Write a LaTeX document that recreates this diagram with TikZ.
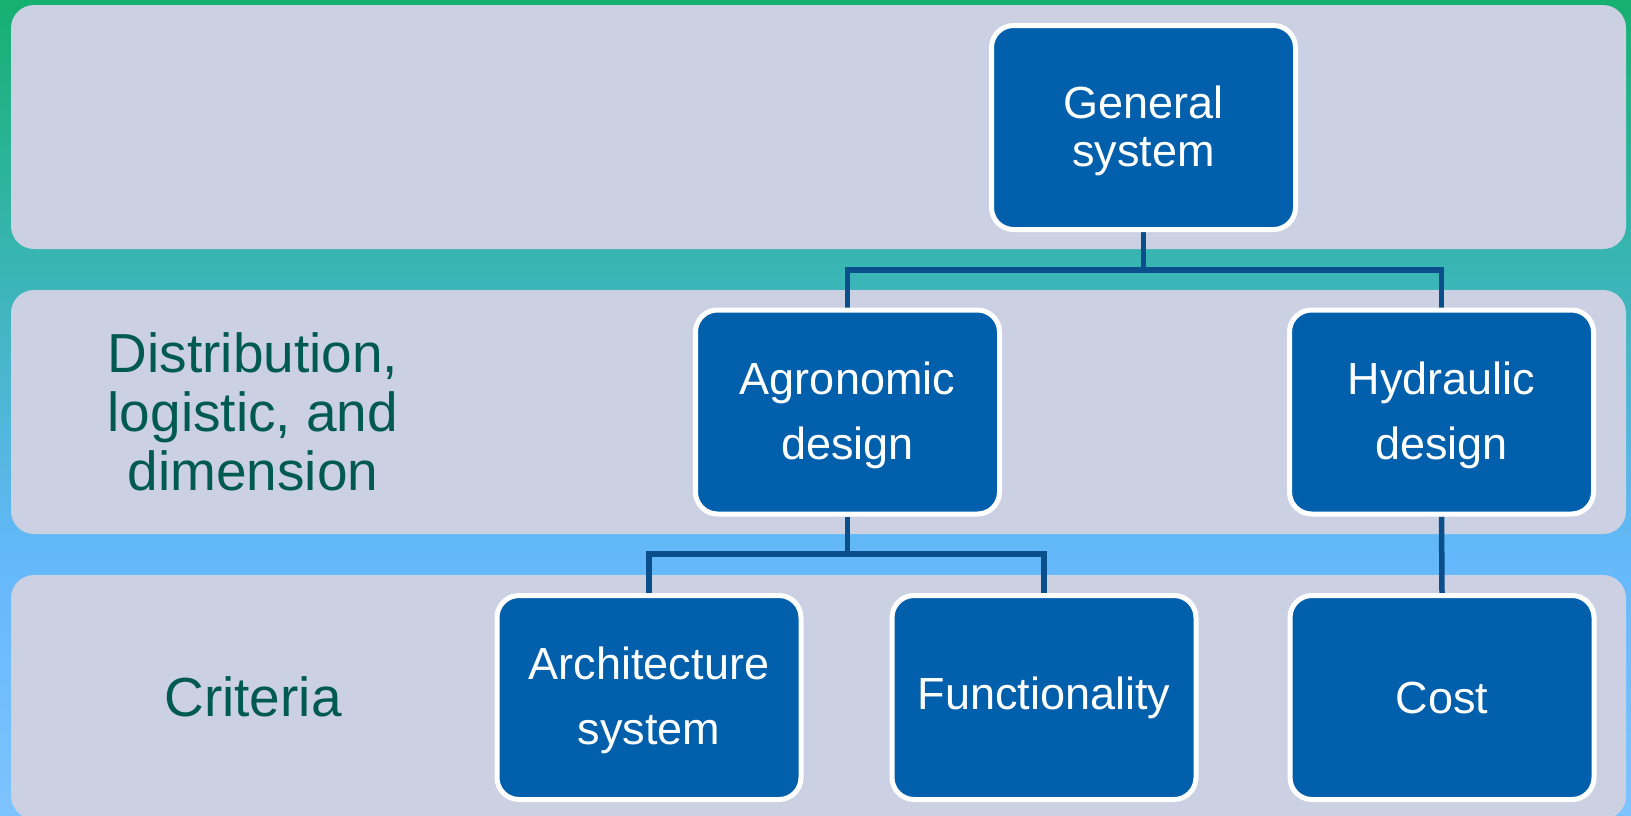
\documentclass[tikz,border=0pt]{standalone}
\usepackage{fontspec}
\setmainfont{Liberation Sans}
\pgfdeclarelayer{bgl}
\pgfdeclarelayer{midl}
\pgfsetlayers{bgl,midl,main}
\definecolor{bgA}{RGB}{22,176,112}
\definecolor{bgB}{RGB}{58,181,181}
\definecolor{bgC}{RGB}{100,184,250}
\definecolor{bgD}{RGB}{125,195,255}
\definecolor{bandc}{RGB}{203,209,227}
\definecolor{boxblue}{RGB}{2,95,172}
\definecolor{linkblue}{RGB}{10,78,140}
\definecolor{labelgreen}{RGB}{0,90,82}
\newcommand{\upstrut}[1]{\rule{0pt}{#1}}
\begin{document}
\begin{tikzpicture}[x=1pt,y=-1pt,
  box/.style={draw=white, line width=5pt, fill=boxblue, rounded corners=22pt,
    minimum width=304pt, minimum height=204pt, text=white,
    font=\fontsize{45}{65}\selectfont, align=center, inner sep=0pt},
  link/.style={draw=linkblue, line width=5.5pt},
  lab/.style={text=labelgreen, font=\fontsize{55}{59}\selectfont, align=center, inner sep=0pt}]
\useasboundingbox (0,0) rectangle (1631,815);
\begin{pgfonlayer}{bgl}
  \shade[top color=bgA,bottom color=bgB] (0,0) rectangle (1631,271);
  \shade[top color=bgB,bottom color=bgC] (0,270) rectangle (1631,556);
  \shade[top color=bgC,bottom color=bgD] (0,555) rectangle (1631,815);
  \fill[bandc, rounded corners=23pt] (11,5) rectangle (1626,249);
  \fill[bandc, rounded corners=23pt] (11,290) rectangle (1626,534);
  \fill[bandc, rounded corners=23pt] (11,575) rectangle (1626,819);
\end{pgfonlayer}

\node[box, font=\fontsize{45}{48}\selectfont] (gen) at (1143.5,127.5) {\upstrut{39pt}General\\system};
\node[box] (agr) at (847.5,412) {\upstrut{40pt}Agronomic\\design};
\node[box] (hyd) at (1441.5,412) {\upstrut{40pt}Hydraulic\\design};
\node[box] (arch) at (649,697.5) {\upstrut{39pt}Architecture\\system};
\node[box] (func) at (1044,697.5) {Functionality};
\node[box] (cost) at (1442,697.5) {Cost};

\node[lab] (l1) at (253,412) {Distribution,\\logistic, and\\dimension};
\node[lab] (l2) at (253,697) {Criteria};

\coordinate (bus1) at (0,270);
\coordinate (bus2) at (0,554);
\begin{pgfonlayer}{midl}
  \draw[link] (gen.south) -- (gen.south |- bus1) -| (agr.north);
  \draw[link] (gen.south |- bus1) -| (hyd.north);
  \draw[link] (agr.south) -- (agr.south |- bus2) -| (arch.north);
  \draw[link] (agr.south |- bus2) -| (func.north);
  \draw[link] (hyd.south) -- (cost.north);
\end{pgfonlayer}
\end{tikzpicture}
\end{document}
